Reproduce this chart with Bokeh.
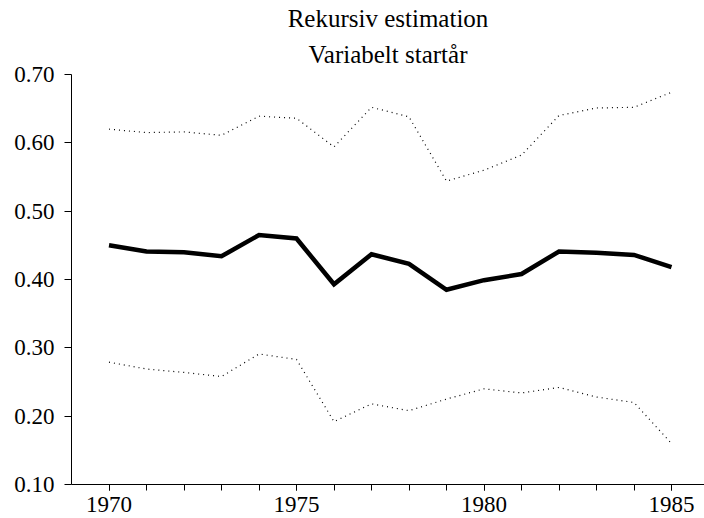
from bokeh.plotting import figure
from bokeh.models import FixedTicker, PrintfTickFormatter, Range1d, Title
from bokeh.embed import file_html
from bokeh.resources import INLINE

years = list(range(1970, 1986))
estimate = [0.450, 0.441, 0.440, 0.434, 0.465, 0.460, 0.393, 0.437,
            0.423, 0.385, 0.399, 0.408, 0.441, 0.439, 0.436, 0.418]
upper = [0.620, 0.615, 0.616, 0.611, 0.639, 0.636, 0.594, 0.652,
         0.638, 0.544, 0.560, 0.582, 0.640, 0.651, 0.652, 0.674]
lower = [0.279, 0.269, 0.264, 0.258, 0.291, 0.283, 0.192, 0.218,
         0.208, 0.225, 0.240, 0.234, 0.242, 0.228, 0.220, 0.160]
y_ticks = [0.10, 0.20, 0.30, 0.40, 0.50, 0.60, 0.70]
x_major = [1970, 1975, 1980, 1985]
x_minor = list(range(1970, 1986))
title_line1 = "Rekursiv estimation"
title_line2 = "Variabelt startår"

FONT = "Liberation Serif"

p = figure(width=704, height=518, output_backend="svg", toolbar_location=None,
           x_range=Range1d(1969, 1985.88), y_range=Range1d(0.1, 0.7),
           min_border_left=71, min_border_right=0, min_border_top=74,
           min_border_bottom=34)

p.title.text = title_line1
p.title.align = "center"
p.title.text_font = FONT
p.title.text_font_size = "25px"
p.title.text_font_style = "normal"
p.title.text_color = "black"
p.title.standoff = 0
p.add_layout(Title(text=title_line2, align="center", text_font=FONT,
                   text_font_size="25px", text_font_style="normal",
                   text_color="black", standoff=14), "above")

p.outline_line_color = None
p.xgrid.grid_line_color = None
p.ygrid.grid_line_color = None
p.background_fill_color = "white"
p.border_fill_color = "white"

for ax in (p.xaxis[0], p.yaxis[0]):
    ax.axis_line_color = "black"
    ax.axis_line_width = 1
    ax.major_tick_line_color = "black"
    ax.minor_tick_line_color = "black"
    ax.major_tick_in = 0
    ax.minor_tick_in = 0
    ax.major_label_text_font = FONT
    ax.major_label_text_font_size = "23px"
    ax.major_label_text_color = "black"

p.xaxis[0].ticker = FixedTicker(ticks=x_major, minor_ticks=x_minor)
p.xaxis[0].major_tick_out = 6
p.xaxis[0].minor_tick_out = 6
p.xaxis[0].major_label_standoff = 6

p.yaxis[0].ticker = FixedTicker(ticks=y_ticks, minor_ticks=[])
p.yaxis[0].formatter = PrintfTickFormatter(format="%.2f")
p.yaxis[0].major_tick_out = 7
p.yaxis[0].minor_tick_out = 0
p.yaxis[0].major_label_standoff = 10

p.line(years, upper, line_color="black", line_width=1.2, line_dash="1 4")
p.line(years, lower, line_color="black", line_width=1.2, line_dash="1 4")
p.line(years, estimate, line_color="black", line_width=4.5, line_join="miter")

open("out.html", "w").write(file_html(p, INLINE))
